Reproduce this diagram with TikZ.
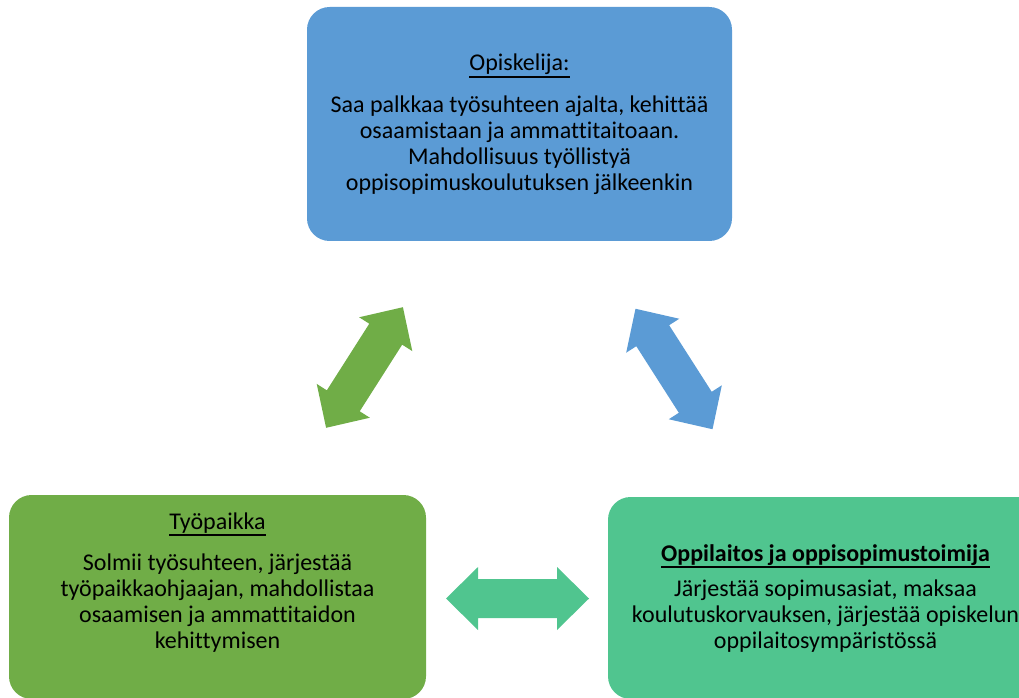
\documentclass[tikz,border=0pt]{standalone}
\usepackage{fontspec}
\setmainfont[Ligatures=NoCommon]{Carlito}
\usetikzlibrary{positioning}

\definecolor{studentblue}{RGB}{91,155,213}
\definecolor{workgreen}{RGB}{112,173,71}
\definecolor{schoolgreen}{RGB}{80,197,143}

% underline set at a fixed depth, through the descenders
\newcommand{\titleline}[1]{\setbox0\hbox{#1}\rlap{\vrule height -3.9pt depth 5.2pt width \wd0}\box0}

% double block arrow along the x axis (length 143px), centred at #2, turned by #3
\newcommand{\dblarrow}[3]{%
  \fill[#1, shift={#2}, rotate=#3] (-71.5,0) -- (-39.5,31.5) -- (-39.5,19.5)
    -- (39.5,19.5) -- (39.5,31.5) -- (71.5,0) -- (39.5,-31.5) -- (39.5,-19.5)
    -- (-39.5,-19.5) -- (-39.5,-31.5) -- cycle;}

\begin{document}
\begin{tikzpicture}[x=0.75pt, y=-0.75pt,
    box/.style={rounded corners=17pt, inner sep=0pt},
    title/.style={inner sep=0pt, anchor=base, font=\fontsize{18}{19.5}\selectfont},
    body/.style={inner sep=0pt, align=center, font=\fontsize{18}{19.5}\selectfont}]
    \useasboundingbox (0,0) rectangle (1019,698);
    \clip (0,0) rectangle (1019,698);

    % Opiskelija (top)
    \node[box, fill=studentblue, minimum width=318.75pt, minimum height=175.5pt] (opiskelija) at (519.5,124) {};
    \node[title] (opiskelijaTitle) at (519.5,71) {\titleline{Opiskelija:}};
    \node[body] (opiskelijaText) at (519.5,145.5) {Saa palkkaa työsuhteen ajalta, kehittää\\osaamistaan ja ammattitaitoaan.\\Mahdollisuus työllistyä\\oppisopimuskoulutuksen jälkeenkin};

    % Tyopaikka (bottom left)
    \node[box, fill=workgreen, minimum width=312.75pt, minimum height=153pt] (tyopaikka) at (217.5,597) {};
    \node[title] (tyopaikkaTitle) at (217.5,529) {\titleline{Työpaikka}};
    \node[body] (tyopaikkaText) at (217.5,603) {Solmii työsuhteen, järjestää\\työpaikkaohjaajan, mahdollistaa\\osaamisen ja ammattitaidon\\kehittymisen};

    % Oppilaitos (bottom right)
    \node[box, fill=schoolgreen, minimum width=326.25pt, minimum height=151.5pt] (oppilaitos) at (825.5,598) {};
    \node[title] (oppilaitosTitle) at (825.5,561) {\titleline{\textbf{Oppilaitos ja oppisopimustoimija}}};
    \node[body] (oppilaitosText) at (825.5,616) {Järjestää sopimusasiat, maksaa\\koulutuskorvauksen, järjestää opiskelun\\oppilaitosympäristössä};

    % block arrows between the parties
    \dblarrow{workgreen}{(364.5,367.5)}{57.5}
    \dblarrow{studentblue}{(674,369)}{-57.4}
    \dblarrow{schoolgreen}{(517.5,598.5)}{0}
\end{tikzpicture}
\end{document}
